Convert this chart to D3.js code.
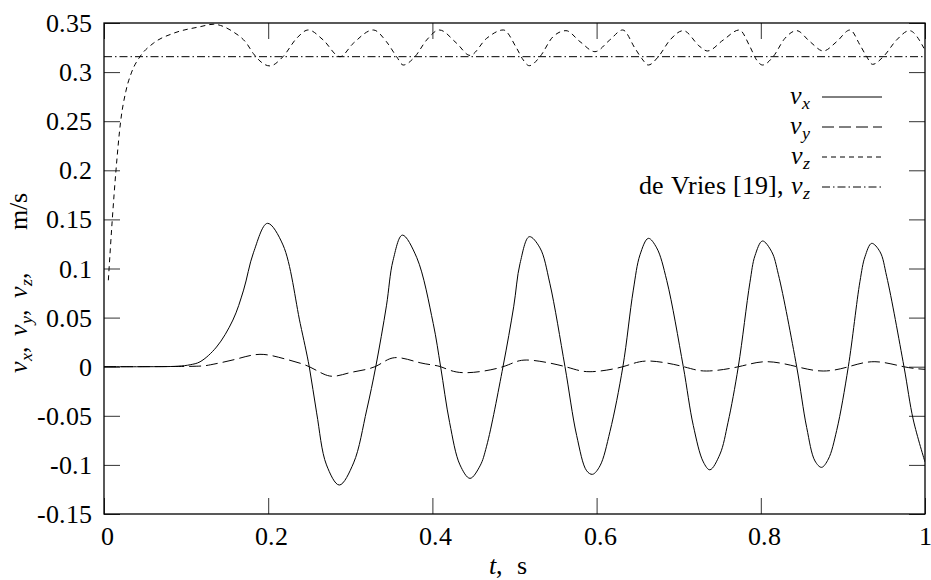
<!DOCTYPE html>
<html><head><meta charset="utf-8">
<script src="https://cdn.jsdelivr.net/npm/d3@7"></script>
<style>
@font-face { font-family: "ChartSerif"; src: local("Liberation Serif"), local("LiberationSerif"), local("Liberation Serif Regular"), local("LiberationSerif-Regular"); font-style: normal; }
@font-face { font-family: "ChartSerif"; src: local("Liberation Serif Italic"), local("LiberationSerif-Italic"); font-style: italic; }
body{margin:0;background:#fff;}
</style>
</head>
<body>
<svg id="c" width="931" height="580"></svg>
<script>
// ---- data ----
const xTicks = [0, 0.2, 0.4, 0.6, 0.8, 1];
const xTickLabels = ["0", "0.2", "0.4", "0.6", "0.8", "1"];
const yTicks = [0.35, 0.3, 0.25, 0.2, 0.15, 0.1, 0.05, 0, -0.05, -0.1, -0.15];
const yTickLabels = ["0.35", "0.3", "0.25", "0.2", "0.15", "0.1", "0.05", "0", "-0.05", "-0.1", "-0.15"];

const tVx = [0, 0.05, 0.09, 0.105, 0.117, 0.137, 0.157, 0.170, 0.182, 0.199, 0.218, 0.239, 0.250, 0.259, 0.271, 0.2866, 0.304, 0.320, 0.331, 0.344, 0.352, 0.3634, 0.381, 0.401, 0.410, 0.421, 0.4336, 0.4458, 0.458, 0.466, 0.486, 0.499, 0.5067, 0.518, 0.531, 0.543, 0.5615, 0.5757, 0.5879, 0.595, 0.6041, 0.6163, 0.632, 0.6447, 0.6529, 0.663, 0.6732, 0.6854, 0.7056, 0.7178, 0.730, 0.738, 0.7503, 0.760, 0.7726, 0.7868, 0.7929, 0.802, 0.8133, 0.8214, 0.8437, 0.8559, 0.866, 0.874, 0.8823, 0.8924, 0.9066, 0.9208, 0.9269, 0.935, 0.9452, 0.9533, 0.9744, 0.9858, 1.0];
const vx = [0, 0, 0.0005, 0.002, 0.005, 0.020, 0.0475, 0.078, 0.116, 0.146, 0.124, 0.044, 0, -0.047, -0.100, -0.1205, -0.098, -0.044, 0, 0.062, 0.108, 0.134, 0.111, 0.044, 0, -0.057, -0.1000, -0.1137, -0.1010, -0.081, 0, 0.061, 0.105, 0.1324, 0.121, 0.085, 0, -0.070, -0.106, -0.1096, -0.1010, -0.066, 0, 0.078, 0.1140, 0.1307, 0.1210, 0.088, 0, -0.060, -0.097, -0.105, -0.089, -0.057, 0, 0.086, 0.113, 0.128, 0.117, 0.094, 0, -0.062, -0.096, -0.1025, -0.094, -0.065, 0, 0.087, 0.112, 0.1256, 0.117, 0.092, 0, -0.0543, -0.097];

const tVy = [0, 0.1, 0.13, 0.16, 0.19, 0.22, 0.25, 0.275, 0.30, 0.330, 0.354, 0.385, 0.41, 0.438, 0.486, 0.515, 0.562, 0.592, 0.632, 0.663, 0.706, 0.734, 0.773, 0.807, 0.844, 0.876, 0.907, 0.939, 0.974, 1.0];
const vy = [0, 0.0003, 0.002, 0.0075, 0.0126, 0.008, 0, -0.0095, -0.006, 0, 0.0092, 0.004, 0, -0.0061, 0, 0.0068, 0, -0.0051, 0, 0.0058, 0, -0.0044, 0, 0.0051, 0, -0.0044, 0, 0.0051, 0, -0.0027];

const tVz = [0.0053, 0.0101, 0.0146, 0.0203, 0.0265, 0.0337, 0.0438, 0.06, 0.0845, 0.117, 0.133, 0.157, 0.1737, 0.1818, 0.202, 0.218, 0.2346, 0.2488, 0.267, 0.2875, 0.3036, 0.328, 0.344, 0.3564, 0.3644, 0.3787, 0.393, 0.4084, 0.4296, 0.4458, 0.4661, 0.4864, 0.5027, 0.5107, 0.518, 0.531, 0.547, 0.5627, 0.5798, 0.598, 0.616, 0.6318, 0.6468, 0.6549, 0.663, 0.6752, 0.6894, 0.7056, 0.7259, 0.735, 0.7543, 0.7738, 0.7868, 0.7949, 0.8022, 0.815, 0.8294, 0.8436, 0.8599, 0.8761, 0.8924, 0.9087, 0.9208, 0.929, 0.9361, 0.9492, 0.9654, 0.981, 0.9988];
const vz = [0.088, 0.15, 0.2, 0.25, 0.28, 0.3, 0.3157, 0.3293, 0.3395, 0.3462, 0.3487, 0.3412, 0.3293, 0.319, 0.3063, 0.3157, 0.3344, 0.3429, 0.3327, 0.3157, 0.3293, 0.3429, 0.331, 0.3157, 0.3072, 0.3157, 0.3327, 0.3429, 0.3293, 0.317, 0.3344, 0.3429, 0.3242, 0.3123, 0.3065, 0.3157, 0.3361, 0.3422, 0.331, 0.3208, 0.3327, 0.3429, 0.3242, 0.314, 0.3072, 0.3157, 0.3327, 0.3422, 0.3259, 0.3215, 0.3327, 0.3429, 0.3259, 0.3123, 0.3072, 0.3157, 0.3344, 0.3422, 0.331, 0.3215, 0.331, 0.3429, 0.3276, 0.3157, 0.3079, 0.3157, 0.3327, 0.3422, 0.3242];

const deVriesT = [0, 1];
const deVriesVz = [0.3157, 0.3157];

const seriesNames = ["v_x", "v_y", "v_z", "de Vries [19], v_z"];

// ---- drawing ----
const svg = d3.select("#c");
const L = 104, R = 925, T = 23, B = 514;
const x = d3.scaleLinear().domain([0, 1]).range([L, R]);
const y = d3.scaleLinear().domain([-0.15, 0.35]).range([B, T]);
const FS = 26;
const FAM = "ChartSerif, 'Liberation Serif', Tinos, serif";
function txt(parent) {
  return parent.append("text")
    .style("font-family", FAM)
    .attr("font-size", FS)
    .attr("fill", "#000");
}
function sub(sel, s) {
  return sel.append("tspan").style("font-style", "italic").attr("font-size", FS * 0.7).text(s);
}
function ital(sel, s) {
  return sel.append("tspan").style("font-style", "italic").text(s);
}

const tickCol = "#333";
const axL = d3.axisLeft(y).tickValues(yTicks).tickSize(-16).tickFormat("");
const axR = d3.axisRight(y).tickValues(yTicks).tickSize(-16).tickFormat("");
const axB = d3.axisBottom(x).tickValues(xTicks).tickSize(-16).tickFormat("");
const axT = d3.axisTop(x).tickValues(xTicks).tickSize(-16).tickFormat("");
[[axL, `translate(${L},0)`], [axR, `translate(${R},0)`], [axB, `translate(0,${B})`], [axT, `translate(0,${T})`]]
  .forEach(([ax, tr]) => {
    const g = svg.append("g").attr("transform", tr).call(ax);
    g.select(".domain").remove();
    g.selectAll("text").remove();
    g.attr("font-family", null).attr("font-size", null);
    g.selectAll("line").attr("stroke", tickCol).attr("stroke-width", 1);
  });

yTicks.forEach((v, i) => {
  txt(svg).attr("x", L - 12).attr("y", y(v) + 9).attr("text-anchor", "end").text(yTickLabels[i]);
});
xTicks.forEach((v, i) => {
  txt(svg).attr("x", x(v) + (i === xTicks.length - 1 ? 0 : 3.5)).attr("y", B + 31)
    .attr("text-anchor", "middle").text(xTickLabels[i]);
});

svg.append("rect").attr("x", L).attr("y", T).attr("width", R - L).attr("height", B - T)
  .attr("fill", "none").attr("stroke", "#000").attr("stroke-width", 1.3);

const lineC = d3.line().x(d => x(d[0])).y(d => y(d[1])).curve(d3.curveCatmullRom.alpha(0.5));
const lineN = d3.line().x(d => x(d[0])).y(d => y(d[1])).curve(d3.curveNatural);
const lineM = d3.line().x(d => x(d[0])).y(d => y(d[1])).curve(d3.curveMonotoneX);
const styles = [
  {t: tVx, v: vx, dash: null, gen: lineC},
  {t: tVy, v: vy, dash: "12,5", gen: lineN},
  {t: tVz, v: vz, dash: "5,4", gen: lineM},
  {t: deVriesT, v: deVriesVz, dash: "8,3,1.5,3", gen: lineM}
];
svg.append("clipPath").attr("id", "pc").append("rect")
  .attr("x", L).attr("y", T).attr("width", R - L).attr("height", B - T);
styles.forEach(s => {
  svg.append("path").datum(s.t.map((t, i) => [t, s.v[i]]))
    .attr("clip-path", "url(#pc)")
    .attr("d", s.gen).attr("fill", "none").attr("stroke", "#000")
    .attr("stroke-width", 1).attr("stroke-dasharray", s.dash);
});

// legend
const legY0 = 97, legDy = 30, legTextX = 810, legX1 = 822, legX2 = 882;
seriesNames.forEach((nm, i) => {
  const yy = legY0 + i * legDy;
  const t = txt(svg).attr("x", legTextX).attr("y", yy + 7).attr("text-anchor", "end");
  const m = nm.match(/^(.*?)v_(\w)$/);
  if (m[1]) t.append("tspan").text(m[1]);
  ital(t, "v");
  sub(t, m[2]).attr("dy", 5);
  svg.append("line").attr("x1", legX1).attr("x2", legX2).attr("y1", yy).attr("y2", yy)
    .attr("stroke", "#000").attr("stroke-width", 1).attr("stroke-dasharray", styles[i].dash);
});

// x axis title
const xt = txt(svg).attr("x", 508).attr("y", 574).attr("text-anchor", "middle");
ital(xt, "t");
xt.append("tspan").text(",\u00a0 s");

// y axis title (rotated)
const yt = svg.append("g").attr("transform", "translate(27,373) rotate(-90)");
const ytx = txt(yt).attr("x", 0).attr("y", 0);
[["x", 0], ["y", 37], ["z", 75]].forEach(([s, px]) => {
  ital(ytx, "v").attr("x", px).attr("y", 0);
  sub(ytx, s).attr("y", 5);
  ytx.append("tspan").attr("y", 0).text(",");
});
ytx.append("tspan").attr("x", 143).attr("y", 0).text("m/s");
</script></body></html>
